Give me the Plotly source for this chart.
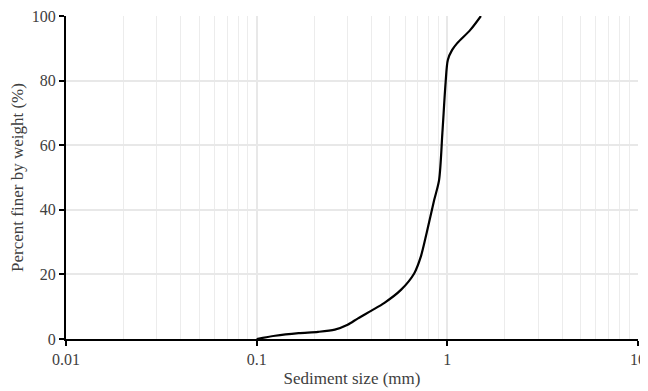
import plotly.graph_objects as go

# Sediment grain size (mm) and cumulative percent finer (%)
sizes = [0.1, 0.125, 0.166, 0.21, 0.257, 0.30, 0.34, 0.40, 0.468, 0.571, 0.67, 0.726,
         0.78, 0.853, 0.905, 0.942, 0.979, 1.006, 1.06, 1.127, 1.32, 1.5]
percent = [0, 1.0, 1.8, 2.2, 2.9, 4.4, 6.4, 8.8, 11.2, 15.2, 20.3, 25.5,
           33, 43, 49.2, 63.8, 79.3, 86.4, 89.5, 91.6, 95.7, 100]

x_ticks = [0.01, 0.1, 1, 10]
x_ticklabels = ["0.01", "0.1", "1", "10"]
y_ticks = [0, 20, 40, 60, 80, 100]

minor_vals = [m * d for d in (0.01, 0.1, 1) for m in range(2, 10)]

fig = go.Figure()
fig.add_trace(go.Scatter(x=sizes, y=percent, mode="lines",
                         line=dict(color="black", width=2.2, shape="spline", smoothing=0.8),
                         showlegend=False, hoverinfo="skip", cliponaxis=False))

font = dict(family="Liberation Serif, Times New Roman, serif", color="#404040")
fig.update_layout(
    width=640, height=383,
    margin=dict(l=58, r=10, t=8, b=52),
    plot_bgcolor="white", paper_bgcolor="white",
    font=dict(**font, size=16),
    xaxis=dict(type="log", range=[-2, 1], tickvals=x_ticks, ticktext=x_ticklabels,
               automargin=False, ticklabeloverflow="allow",
               showgrid=True, gridcolor="#e8e8e8", gridwidth=1.5,
               minor=dict(tickvals=minor_vals, showgrid=True, gridcolor="#ececec", gridwidth=1.2, ticks=""),
               showline=True, linecolor="black", linewidth=2,
               ticks="outside", ticklen=5, tickwidth=2, tickcolor="black",
               zeroline=False,
               title=dict(text="Sediment size (mm)", font=dict(size=17), standoff=5),
               tickfont=dict(size=16)),
    yaxis=dict(range=[0, 100], tickvals=y_ticks,
               automargin=False, ticklabeloverflow="allow",
               showgrid=True, gridcolor="#e8e8e8", gridwidth=1.5,
               showline=True, linecolor="black", linewidth=2,
               ticks="outside", ticklen=5, tickwidth=2, tickcolor="black",
               zeroline=False,
               title=dict(text="Percent finer by weight (%)", font=dict(size=17), standoff=8),
               tickfont=dict(size=16)),
)

fig.write_html("out.html")
